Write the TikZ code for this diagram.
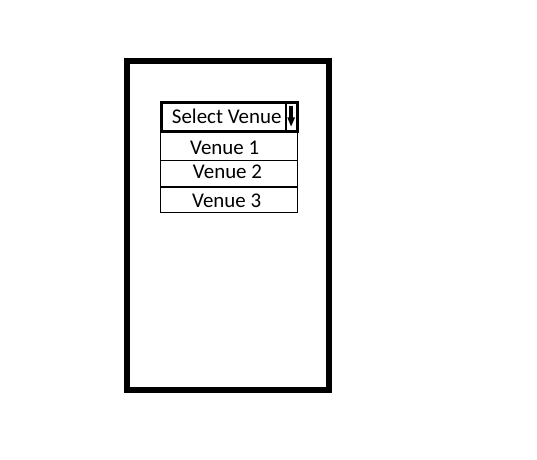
\documentclass[tikz,border=0pt]{standalone}
\usepackage{fontspec}
\setmainfont{Carlito}
\begin{document}
\begin{tikzpicture}[x=0.75pt,y=-0.75pt,
  lbl/.style={inner sep=0pt,anchor=base,font=\fontsize{15.7}{18}\selectfont},
  rowbox/.style={draw=black,line width=0.75pt}]
\useasboundingbox (0,0) rectangle (537,460);
% phone frame
\draw[line width=4.5pt] (127,61.5) rectangle (328.5,390);
% list rows
\draw[rowbox] (160.7,133) rectangle (297.7,160.7);
\draw[rowbox] (160.7,160.7) rectangle (297.7,187.5);
\draw[rowbox] (160.7,187.5) rectangle (297.7,212.7);
\draw[line width=1.5pt] (160.7,187.5) -- (297.7,187.5);
% select box
\draw[line width=2.25pt,fill=white] (161.3,102.3) rectangle (297,131.8);
\draw[line width=1.6pt] (285.8,102.3) -- (285.8,131.8);
% arrow
\fill (289.3,106) rectangle (293,118);
\fill (287.3,117.5) -- (295,117.5) -- (291.1,126.5) -- cycle;
% texts
\node[lbl] (sel) at (226.7,123.5) {Select Venue};
\node[lbl] (v1) at (224.7,154.5) {Venue 1};
\node[lbl] (v2) at (227.5,178.5) {Venue 2};
\node[lbl] (v3) at (226.7,207.5) {Venue 3};
\end{tikzpicture}
\end{document}
